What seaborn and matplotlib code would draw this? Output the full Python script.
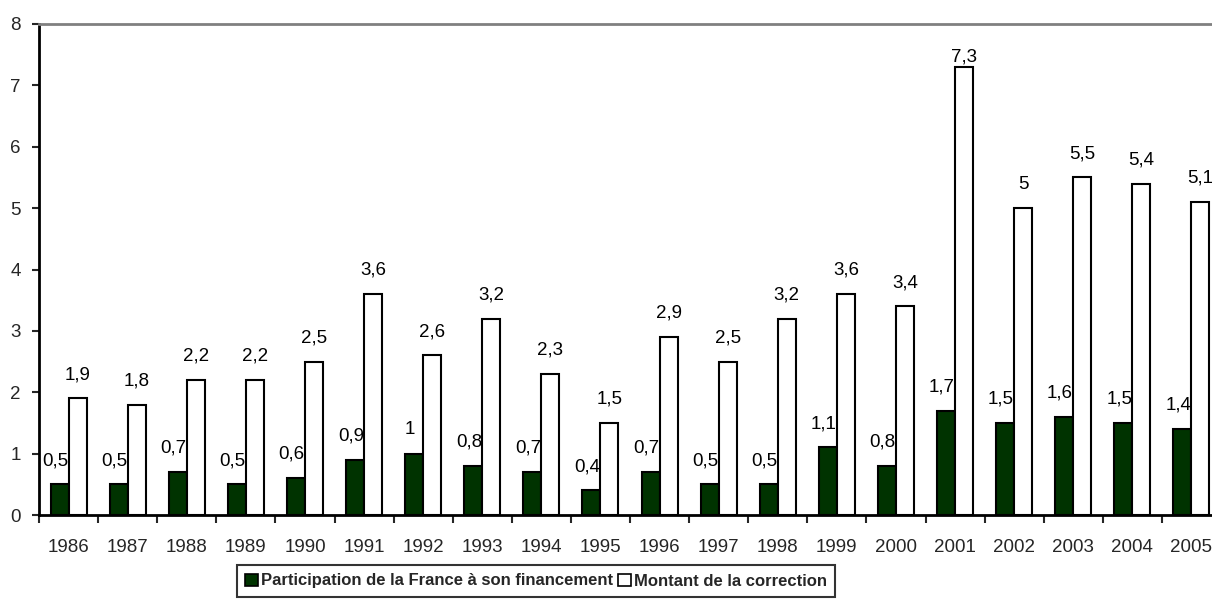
import numpy as np
import pandas as pd
import matplotlib
matplotlib.use("Agg")
import matplotlib.pyplot as plt
from matplotlib.patches import Patch
import seaborn as sns

years = ["1986", "1987", "1988", "1989", "1990", "1991", "1992", "1993", "1994", "1995",
         "1996", "1997", "1998", "1999", "2000", "2001", "2002", "2003", "2004", "2005"]
participation = [0.5, 0.5, 0.7, 0.5, 0.6, 0.9, 1.0, 0.8, 0.7, 0.4,
                 0.7, 0.5, 0.5, 1.1, 0.8, 1.7, 1.5, 1.6, 1.5, 1.4]
correction = [1.9, 1.8, 2.2, 2.2, 2.5, 3.6, 2.6, 3.2, 2.3, 1.5,
              2.9, 2.5, 3.2, 3.6, 3.4, 7.3, 5.0, 5.5, 5.4, 5.1]
series_names = ["Participation de la France à son financement", "Montant de la correction"]
colors = ["#003300", "#ffffff"]

sns.set_theme(style="white")
plt.rcParams['font.family'] = ['Liberation Sans', 'DejaVu Sans']
fs = 13.5
lfs = 12

df = pd.DataFrame({
    "year": years * 2,
    "value": participation + correction,
    "series": [series_names[0]] * len(years) + [series_names[1]] * len(years),
})

fig = plt.figure(figsize=(12.12, 6.16), dpi=100)
ax = fig.add_axes([39 / 1212, 101 / 616, 1182 / 1212, 491 / 616])

sns.barplot(data=df, x="year", y="value", hue="series", order=years,
            hue_order=series_names, palette=colors, width=0.61,
            edgecolor="black", linewidth=1.5, saturation=1, legend=False, ax=ax)

ax.set_xlim(-0.5, len(years) - 0.5)
ax.set_ylim(0, 8)
ax.set_xlabel("")
ax.set_ylabel("")

def fmt(v):
    s = ("%.1f" % v).rstrip("0").rstrip(".")
    return s.replace(".", ",")

for i, container in enumerate(ax.containers):
    for bar in container:
        v = bar.get_height()
        xc = bar.get_x() + bar.get_width() / 2
        off = 11 if v < 7 else 1
        dx = -3 if i == 0 else 0
        ax.annotate(fmt(v), (xc, v), xytext=(dx, off), textcoords="offset points",
                    ha="center", va="bottom", fontsize=fs, color="black")

ax.set_yticks(range(0, 9))
ax.tick_params(axis="y", length=5, width=1.5, direction="out", labelsize=fs, pad=8, left=True)
ax.set_xticks(range(len(years)))
ax.set_xticklabels(years)
ax.tick_params(axis="x", which="major", length=0, labelsize=fs, pad=17)
ax.set_xticks(np.arange(-0.5, len(years), 1), minor=True)
ax.tick_params(axis="x", which="minor", length=6, width=1.5, direction="out", bottom=True)

for s in ["left", "bottom"]:
    ax.spines[s].set_color("black")
    ax.spines[s].set_linewidth(2)
ax.spines["top"].set_color("#808080")
ax.spines["top"].set_linewidth(2)
ax.spines["right"].set_visible(False)

handles = [Patch(facecolor=c, edgecolor="black", linewidth=1.2) for c in colors]
leg = fig.legend(handles, series_names, loc="center", bbox_to_anchor=(536 / 1212, 35 / 616),
                 ncol=2, frameon=True, fancybox=False, edgecolor="black",
                 prop={"weight": "bold", "size": lfs},
                 handlelength=0.75, handleheight=0.75,
                 handletextpad=0.2, columnspacing=0.3, borderpad=0.5, borderaxespad=0)
leg.get_frame().set_linewidth(1.5)

fig.savefig("out.png", dpi=100, facecolor="white")
